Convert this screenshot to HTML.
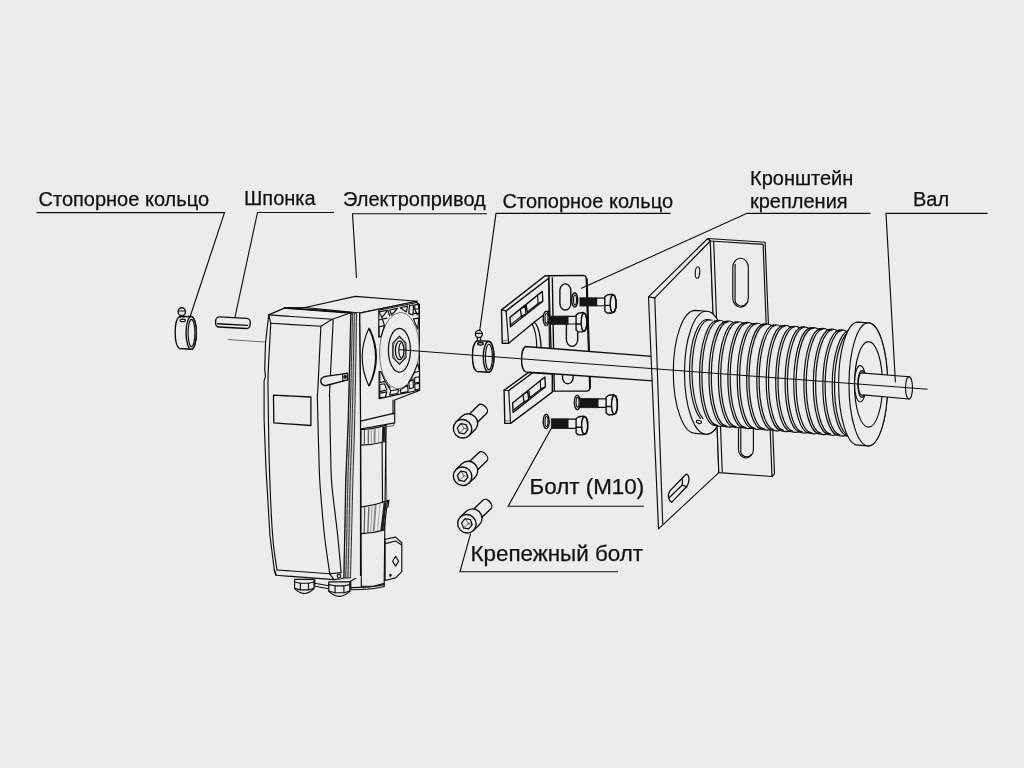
<!DOCTYPE html>
<html><head><meta charset="utf-8">
<style>
html,body{margin:0;padding:0;background:#ececec;}
body{width:1024px;height:768px;overflow:hidden;font-family:"Liberation Sans",sans-serif;}
svg{display:block;position:absolute;left:0;top:0;}
text{font-family:"Liberation Sans",sans-serif;fill:#111;stroke:#111;stroke-width:0.25;}
.t1{font-size:20px;}
.t2{font-size:22.4px;}
.ld{stroke:#0c0c0c;stroke-width:1.15;fill:none;}
.s{stroke:#0c0c0c;stroke-width:1.15;fill:none;stroke-linejoin:round;stroke-linecap:round;}
.s2{stroke:#0c0c0c;stroke-width:1.38;fill:none;stroke-linejoin:round;stroke-linecap:round;}
.sl{stroke:#333;stroke-width:0.7;fill:none;stroke-linejoin:round;stroke-linecap:round;}
.f{stroke:#0c0c0c;stroke-width:1.15;fill:#ececec;stroke-linejoin:round;stroke-linecap:round;}
.f2{stroke:#0c0c0c;stroke-width:1.38;fill:#ececec;stroke-linejoin:round;stroke-linecap:round;}
.g{stroke:#1a1a1a;stroke-width:1;fill:#bdbdbd;stroke-linejoin:round;}
.k{fill:#161616;stroke:#161616;stroke-width:0.8;}
.n{fill:#ececec;stroke:none;}
</style></head>
<body>
<svg width="1024" height="768" viewBox="0 0 1024 768">
<rect x="0" y="0" width="1024" height="768" fill="#ececec"/>
<defs><filter id="nf" x="0" y="0" width="100%" height="100%" filterUnits="userSpaceOnUse" color-interpolation-filters="sRGB"><feOffset dx="0" dy="0"/></filter><filter id="soft" x="0" y="0" width="1024" height="768" filterUnits="userSpaceOnUse" color-interpolation-filters="sRGB"><feGaussianBlur stdDeviation="0.38"/></filter></defs>
<g id="labels" filter="url(#nf)">
<text class="t1" x="38.5" y="206">Стопорное кольцо</text>
<text class="t1" x="244" y="204.5">Шпонка</text>
<text class="t1" x="343" y="206">Электропривод</text>
<text class="t1" x="502.5" y="207.5">Стопорное кольцо</text>
<text class="t1" x="750" y="184.5">Кронштейн</text>
<text class="t1" x="750" y="208">крепления</text>
<text class="t1" x="913" y="205.5">Вал</text>
<text class="t2" x="529.5" y="494">Болт (М10)</text>
<text class="t2" x="470.5" y="561">Крепежный болт</text>
</g>
<g id="parts" filter="url(#soft)">
<g id="ring1">
<path class="f2" d="M179.4,316.7 A5.2,16.2 0 0 0 179.4,348.5 L191.2,349.3 A5.2,16.3 0 0 0 191.2,316.5 Z" />
<ellipse class="f2" cx="191.2" cy="332.9" rx="5.1" ry="16.3" />
<ellipse class="s" cx="191.5" cy="333.0" rx="3.4" ry="13.6" />
<ellipse class="f2" cx="181.8" cy="311.7" rx="3.7" ry="3.9" />
<polyline class="s" points="178.6,311.0 185.0,311.0" />
<path class="s" d="M180.4,315.4 L180.4,317.2 M183.6,315.4 L183.6,317.0" />
<ellipse class="s" cx="182.8" cy="320.4" rx="2.6" ry="1.2" />
</g>
<g id="key">
<g transform="rotate(3.2 233 322.5)">
<rect class="f2" x="215.6" y="317.6" width="34.6" height="10.2" rx="3.6" ry="4"/>
<path class="s2" d="M217.5,324.6 L247.6,324.6" />
</g>
</g>
<polyline class="sl" points="228.1,339.6 264.3,342.0" />
<g id="drive">
<polygon class="f" points="360.5,421.1 386.0,419.3 384.2,583.2 374.5,586.0 361.3,586.3" />
<polygon class="f" points="355.2,296.4 417.6,301.2 359.6,313.1 305.1,307.5" />
<polygon class="f" points="359.6,313.1 414.1,301.7 419.4,304.3 419.4,390.5 394.7,400.0 394.7,422.9 360.5,429.0 360.5,400.0" />
<path class="s" d="M314.8,579.6 L314.8,586.3 L328.8,588.8 L328.8,583.2" />
<polyline class="s" points="314.8,583.2 328.8,585.8" />
<polyline class="s" points="349.9,581.4 360.5,575.6" />
<path class="s" d="M350.8,587.6 Q371.0,587.7 384.2,584.6" />
<path class="s" d="M350.8,589.7 Q371.0,589.8 384.2,586.5" />
<polyline class="s" points="350.8,581.4 350.8,589.7" />
<polyline class="s" points="384.2,583.2 384.2,586.5" />
<polyline class="sl" points="364.0,587.0 364.0,588.8" />
<polyline class="sl" points="368.9,586.7 368.9,588.4" />
<path class="f" d="M360.9,429.6 Q373.4,429.1 385.9,425.4 L385.6,441.5 Q373.3,444.9 360.9,445.1 Z" />
<line x1="364.4" y1="430.0" x2="364.4" y2="444.4" stroke="#555" stroke-width="1.2"/>
<line x1="368.4" y1="429.6" x2="368.3" y2="444.1" stroke="#6a6a6a" stroke-width="1.4"/>
<line x1="371.4" y1="429.2" x2="371.3" y2="443.8" stroke="#888" stroke-width="0.8"/>
<line x1="374.7" y1="428.7" x2="374.5" y2="443.3" stroke="#8a8a8a" stroke-width="2.0"/>
<line x1="378.9" y1="427.8" x2="378.7" y2="442.5" stroke="#999" stroke-width="0.8"/>
<line x1="383.7" y1="426.7" x2="383.3" y2="441.5" stroke="#1c1c1c" stroke-width="3.0"/>
<path class="f" d="M360.9,507.1 Q374.3,505.5 387.6,500.7 L383.9,530.1 Q372.4,533.4 360.9,533.6 Z" />
<line x1="364.7" y1="507.2" x2="364.2" y2="532.9" stroke="#555" stroke-width="1.2"/>
<line x1="368.9" y1="506.5" x2="367.8" y2="532.6" stroke="#6a6a6a" stroke-width="1.4"/>
<line x1="372.1" y1="505.8" x2="370.6" y2="532.3" stroke="#888" stroke-width="0.8"/>
<line x1="375.6" y1="505.0" x2="373.6" y2="531.9" stroke="#8a8a8a" stroke-width="2.0"/>
<line x1="380.1" y1="503.8" x2="377.5" y2="531.1" stroke="#999" stroke-width="0.8"/>
<line x1="385.2" y1="502.2" x2="381.9" y2="530.1" stroke="#1c1c1c" stroke-width="3.0"/>
<polyline class="s" points="382.1,442.0 382.5,502.6" />
<polyline class="sl" points="385.9,441.5 386.8,501.1" />
<polyline class="s" points="360.5,429.0 360.5,535.0" />
<path class="sl" d="M386.1,426.9 L393.8,425.6 L393.8,423.2" />
<path class="s" d="M386.8,501.1 L389.0,500.2 L387.9,507.1" />
<polyline class="s2" points="360.5,421.1 394.7,413.2" />
<polyline class="s" points="393.0,400.0 393.0,414.1" />
<polygon class="f" points="385.1,539.2 395.6,537.1 401.8,542.7 401.8,571.7 395.6,577.9 385.1,580.5" />
<polyline class="s" points="385.1,543.6 395.6,541.0 401.4,544.8" />
<polygon class="f" points="395.6,556.3 398.6,561.2 395.6,566.1 392.6,561.2" />
<ellipse class="k" cx="390.4" cy="575.3" rx="0.9" ry="1.3" />
<path class="f" d="M368.9,328.2 Q355.5,357.1 368.9,385.9 Q382.3,357.1 368.9,328.2 Z" />
<path class="s2" d="M369.6,328.9 Q383.0,357.1 369.6,385.2" />
<polygon class="n" points="378.8,310.3 416.6,302.5 418.9,304.4 419.7,390.0 379.1,398.6" />
<polyline class="s" points="378.8,336.9 378.8,310.3 416.6,302.5 418.9,304.4 419.7,390.0 379.1,398.6 379.1,371.2" />
<ellipse class="f" style="stroke-width:0.8;stroke:#555" cx="0" cy="0" rx="19.8" ry="38.0" transform="translate(399.4 350.6) skewY(-7)"/>
<polygon class="f" points="379.1,311.9 387.7,310.3 381.9,317.3" />
<polygon class="f" points="379.1,326.7 384.5,325.6 380.9,336.9 379.1,336.9" />
<polygon class="f" points="389.7,310.0 397.5,308.4 391.6,315.0" />
<polyline class="s" points="379.8,319.7 386.9,318.1" />
<polyline class="s" points="381.9,317.3 384.5,325.6" />
<polyline class="s" points="387.7,310.3 389.7,315.8" />
<polygon class="f" points="400.2,307.7 407.5,306.1 406.4,311.9" />
<polygon class="f" points="409.5,305.6 413.4,305.0 413.1,315.0 408.8,313.4" />
<polygon class="f" points="414.7,304.8 418.4,304.4 418.6,308.8 414.7,309.1" />
<polygon class="f" points="413.4,318.9 418.9,318.1 417.7,329.1" />
<polyline class="s" points="413.4,313.4 418.8,313.4" />
<polyline class="s" points="414.7,309.1 417.3,315.0" />
<polygon class="f" points="379.8,371.6 380.9,371.6 385.3,381.4 379.8,382.5" />
<polygon class="f" points="379.8,384.5 384.5,383.8 386.9,390.0 379.8,391.6" />
<polygon class="f" points="379.8,393.1 386.9,391.9 385.3,397.0 379.8,397.8" />
<polygon class="f" points="390.8,390.8 398.6,389.5 397.8,393.4 389.7,395.0" />
<polyline class="s" points="385.3,381.4 390.8,390.8" />
<polyline class="s" points="386.9,383.8 390.0,387.7" />
<polygon class="f" points="417.7,363.4 419.4,371.2 414.2,372.5" />
<polygon class="f" points="408.8,382.2 413.1,379.1 413.4,387.7 409.5,388.8" />
<polygon class="f" points="414.7,377.5 419.4,376.7 419.4,382.2 414.7,383.1" />
<polygon class="f" points="414.7,384.1 419.4,383.3 419.4,388.8 415.0,390.0" />
<polygon class="f" points="400.2,390.0 407.5,385.0 408.1,391.6 400.9,393.1" />
<polyline class="s" points="414.2,372.5 408.8,382.2" />
<ellipse class="f" cx="399.4" cy="350.3" rx="11.0" ry="21.9" style="stroke-width:1.2"/>
<polygon class="f" points="406.0,357.4 399.4,364.5 392.8,357.4 392.8,343.2 399.4,336.1 406.0,343.2" style="stroke-width:1.05"/>
<ellipse class="sl" cx="399.4" cy="350.3" rx="6.2" ry="12.2" />
<ellipse class="f" cx="399.7" cy="350.3" rx="4.3" ry="9.4" style="stroke-width:1.3"/>
<path class="s" d="M400.9,342.8 A3.2,8 0 0 0 400.9,357.8" />
<path class="n" d="M356.6,313.1 C356.3,330.9 355.3,392.2 354.7,420.0 C354.1,447.8 353.4,460.8 352.9,480.0 C352.4,499.2 352.0,518.7 351.6,535.0 C351.2,551.3 350.7,570.8 350.5,578.0 L360.6,578 L360.2,420 L359.6,313.1 Z" />
<path class="g" d="M350.8,312.8 C350.4,330.7 349.1,392.1 348.2,420.0 C347.3,447.9 346.3,460.8 345.7,480.0 C345.1,499.2 345.0,518.7 344.7,535.0 C344.4,551.3 343.9,570.8 343.8,578.0 L350.5,578.0 350.5,578.0 C350.7,570.8 351.2,551.3 351.6,535.0 C352.0,518.7 352.4,499.2 352.9,480.0 C353.4,460.8 354.1,447.8 354.7,420.0 C355.3,392.2 356.3,330.9 356.6,313.1Z" style="fill:#cfcfcf;stroke-width:0.95;stroke:#222"/>
<path class="s" d="M352.5,312.9 C352.1,330.7 350.9,392.1 350.1,420.0 C349.4,447.9 348.4,460.8 347.9,480.0 C347.3,499.2 347.1,518.7 346.8,535.0 C346.4,551.3 346.0,570.8 345.8,578.0" style="stroke-width:0.95;stroke:#2a2a2a"/>
<path class="s" d="M354.4,313.0 C354.0,330.8 352.9,392.2 352.2,420.0 C351.5,447.8 350.7,460.8 350.2,480.0 C349.6,499.2 349.3,518.7 349.0,535.0 C348.6,551.3 348.1,570.8 348.0,578.0" style="stroke-width:0.95;stroke:#2a2a2a"/>
<polyline class="s" points="359.6,313.1 360.5,420.0 360.5,575.6" />
<path class="f" d="M268.7,314.9 L284.9,307.9 L350.8,312.8 L348.2,420 L345.7,480 L344.7,535 L343.8,578 L341.1,578.8 L334.1,579.6 L276.1,575.3 L274.3,570.0 L269.9,535.0 L265.9,466.8 L264.1,420.0 L264.1,380.8 L265.5,376.4 L264.7,369.4 L265.5,343.0 L268.7,314.9 Z" />
<polyline class="s2" points="284.9,307.9 350.8,312.8" style="stroke-width:1.9"/>
<polyline class="s" points="305.1,307.5 284.9,307.9" />
<polyline class="s" points="268.7,314.9 332.3,319.3 350.8,312.8" />
<polyline class="s" points="270.8,323.3 320.9,326.3 332.3,319.3" />
<polyline class="s" points="268.7,314.9 270.8,323.3" />
<path class="s" d="M270.8,323.3 C270.4,331.6 268.6,360.1 268.2,372.9 C267.7,385.7 268.0,384.3 268.2,400.0 C268.4,415.7 268.7,444.3 269.4,466.8 C270.1,489.3 271.3,517.8 272.6,535.0 C273.8,552.2 276.2,564.2 277.0,570.0" />
<path class="s" d="M320.9,326.3 C320.4,337.0 318.3,378.2 317.8,390.5 C317.2,402.8 317.2,387.3 317.4,400.0 C317.6,412.7 318.7,451.8 319.2,466.8 C319.7,481.8 319.5,478.6 320.4,490.0 C321.3,501.4 322.9,521.1 324.4,535.0 C326.0,548.9 328.8,567.1 329.7,573.5" />
<path class="s" d="M333.2,319.8 C332.6,331.6 330.3,377.1 329.7,390.5 C329.1,403.8 329.5,387.3 329.7,400.0 C329.9,412.7 330.5,451.8 330.9,466.8 C331.4,481.8 331.2,478.6 332.3,490.0 C333.5,501.4 336.2,521.2 337.6,535.0 C339.1,548.8 340.5,566.3 341.1,572.6" />
<polyline class="s" points="277.0,570.0 329.7,573.8 341.1,572.6" />
<polyline class="s" points="329.7,573.8 334.1,579.6" />
<polyline class="s2" points="274.3,570.0 276.1,575.3" />
<ellipse class="s" cx="339.0" cy="576.1" rx="1.8" ry="1.8" />
<polygon class="f" points="273.5,395.2 310.9,397.0 310.9,425.5 273.8,422.9" style="stroke-width:1.3"/>
<path class="f2" d="M347.3,373.4 L325.3,376.4 Q320.4,377.8 320.7,381.3 Q321.4,385.5 326.2,385.5 L347.6,379.9 Z" />
<polygon class="f" points="342.5,374.1 347.6,373.1 347.6,379.9 342.9,380.8" />
<ellipse class="k" cx="345.2" cy="376.8" rx="1.5" ry="1.7" />
<path class="f" d="M294.6,579.3 L314.0,579.3 L314.0,588.7 Q304.3,598.3 294.6,588.7 L294.6,579.3 Z" />
<polyline class="s" points="294.6,582.0 300.4,583.2 308.5,583.2 314.0,582.0" />
<polyline class="s" points="294.6,588.4 300.4,589.9 308.5,589.9 314.0,588.4" />
<polyline class="s" points="300.4,583.2 300.4,589.9" />
<polyline class="s" points="308.5,583.2 308.5,589.9" />
<path class="f" d="M328.8,581.8 L349.8,581.8 L349.8,591.4 Q339.3,601.3 328.8,591.4 L328.8,581.8 Z" />
<polyline class="s" points="328.8,584.6 335.1,585.8 343.9,585.8 349.8,584.6" />
<polyline class="s" points="328.8,591.1 335.1,592.7 343.9,592.7 349.8,591.1" />
<polyline class="s" points="335.1,585.8 335.1,592.7" />
<polyline class="s" points="343.9,585.8 343.9,592.7" />
</g>
<g id="bracket">
<polygon class="f2" points="501.5,309.9 545.2,275.7 548.7,275.7 552.3,278.0 552.3,308.0 534.1,322.3 508.7,343.2 502.2,343.2" />
<polyline class="s2" points="506.1,310.9 549.1,278.0" />
<polyline class="s" points="506.1,310.9 508.7,343.2" />
<polyline class="s" points="501.5,309.9 506.1,310.9" />
<polyline class="sl" points="502.8,340.6 508.0,340.6" />
<polygon class="f" points="510.0,317.4 542.3,291.4 542.8,301.2 510.5,326.8" style="stroke-width:1.35"/>
<polyline class="s" points="511.0,324.4 521.1,316.4" />
<polyline class="s" points="527.4,311.9 538.1,303.5 542.6,301.2" />
<polyline class="s" points="537.6,295.5 538.1,303.5" />
<polygon class="f" points="520.4,309.1 525.1,305.9 526.1,313.8 521.4,316.6" style="stroke-width:1.3"/>
<polyline class="s" points="526.3,305.4 527.2,311.9" style="stroke-width:1.3"/>
<path class="s2" d="M534.1,322.3 Q539.9,326.2 541.2,348.4" />
<path class="s" d="M532.1,324.3 Q536.4,330.1 536.9,348.4" />
<path class="f2" d="M548.7,275.7 L583.6,275.4 Q586.2,275.7 586.4,278.7 L589.8,377.1 L589.8,387.5 Q589.8,391.1 586.2,391.1 L552.3,391.1 Z" />
<polyline class="s" points="586.7,279.1 590.0,387.5" style="stroke-width:2.0"/>
<polyline class="s2" points="552.3,278.0 554.3,390.8" />
<polyline class="s" points="548.7,275.7 549.4,348.4" />
<rect class="f2" x="559.9" y="283.9" width="10.9" height="26.1" rx="5.5" ry="6.6"/>
<rect class="f2" x="566.4" y="317.1" width="11.3" height="29.3" rx="5.7" ry="6.8"/>
<rect class="f2" x="562.5" y="366.1" width="10.7" height="17.6" rx="5.3" ry="6.4"/>
</g>
<g id="hexbolts">
<rect class="k" x="549.7" y="316.1" width="18.2" height="8.2"/>
<rect class="f" x="567.9" y="316.4" width="9.8" height="7.6"/>
<polygon class="f2" points="576.1,315.1 578.5,313.1 583.1,312.5 585.4,314.0 586.8,318.8 586.8,325.8 585.1,330.6 582.4,331.9 578.2,331.9 576.1,329.9" />
<ellipse class="s2" cx="584.0" cy="322.3" rx="2.8" ry="9.0" />
<polyline class="s2" points="576.1,324.0 581.3,324.0" />
<ellipse class="f2" cx="546.2" cy="318.4" rx="3.0" ry="7.2" />
<ellipse class="s" cx="546.5" cy="318.4" rx="1.5" ry="4.9" />
<rect class="k" x="579.9" y="297.8" width="16.7" height="8.2"/>
<rect class="f" x="596.6" y="298.1" width="10.5" height="7.6"/>
<polygon class="f2" points="604.8,296.8 607.3,294.9 612.2,294.3 614.7,295.7 616.1,300.4 616.1,307.2 614.3,311.8 611.5,313.0 607.0,313.0 604.8,311.1" />
<ellipse class="s2" cx="613.1" cy="303.8" rx="2.9" ry="8.7" />
<polyline class="s2" points="604.8,305.4 610.3,305.4" />
<ellipse class="f2" cx="574.7" cy="299.9" rx="3.0" ry="7.2" />
<ellipse class="s" cx="575.0" cy="299.9" rx="1.5" ry="4.9" />
<rect class="k" x="580.3" y="398.6" width="17.6" height="9.1"/>
<rect class="f" x="597.9" y="398.9" width="10.5" height="8.5"/>
<polygon class="f2" points="606.1,397.3 608.7,395.3 613.5,394.7 616.0,396.2 617.4,401.2 617.4,408.4 615.6,413.4 612.8,414.7 608.3,414.7 606.1,412.7" />
<ellipse class="s2" cx="614.4" cy="404.8" rx="2.9" ry="9.3" />
<polyline class="s2" points="606.1,406.5 611.6,406.5" />
<ellipse class="f2" cx="577.3" cy="402.3" rx="3.0" ry="7.2" />
<ellipse class="s" cx="577.6" cy="402.3" rx="1.5" ry="4.9" />
<rect class="k" x="551.3" y="418.8" width="16.7" height="9.8"/>
<rect class="f" x="567.9" y="419.1" width="10.5" height="9.2"/>
<polygon class="f2" points="576.1,418.7 578.8,416.8 583.7,416.2 586.2,417.6 587.7,422.2 587.7,429.0 585.8,433.7 583.0,434.9 578.4,434.9 576.1,433.0" />
<ellipse class="s2" cx="584.6" cy="425.6" rx="3.0" ry="8.7" />
<polyline class="s2" points="576.1,427.3 581.8,427.3" />
<ellipse class="f2" cx="546.2" cy="421.4" rx="3.0" ry="7.2" />
<ellipse class="s" cx="546.5" cy="421.4" rx="1.5" ry="4.9" />
</g>
<g id="tube">
<path class="f2" d="M525.6,346.5 L652.0,356.4 L653.0,380.9 L525.6,371.9 A4.6,12.8 0 0 1 525.6,346.5 Z" />
</g>
<g id="bracketlow">
<polygon class="f2" points="504.1,390.2 528.2,372.6 552.3,374.1 552.3,392.1 510.6,423.4 504.8,423.4" />
<polyline class="s2" points="508.7,390.5 532.1,373.2" />
<polyline class="s" points="508.7,390.5 510.6,423.4" />
<polyline class="s" points="504.1,390.2 508.7,390.5" />
<polyline class="sl" points="505.4,420.8 510.4,420.8" />
<polygon class="f" points="512.6,403.0 544.9,377.0 545.4,386.9 513.1,412.4" style="stroke-width:1.35"/>
<polyline class="s" points="513.6,410.0 523.7,402.0" />
<polyline class="s" points="530.0,397.5 540.7,389.1 545.2,386.9" />
<polyline class="s" points="540.2,381.1 540.7,389.1" />
<polygon class="f" points="523.0,394.7 527.7,391.5 528.7,399.4 524.0,402.2" style="stroke-width:1.3"/>
<polyline class="s" points="528.9,391.0 529.8,397.5" style="stroke-width:1.3"/>
</g>
<g id="ring2">
<path class="f2" d="M476.8,340.8 A5.3,15.6 0 0 0 476.8,371.5 L488.6,372.3 A5.3,15.4 0 0 0 488.6,341.1 Z" />
<ellipse class="f2" cx="488.6" cy="356.9" rx="5.3" ry="15.4" />
<ellipse class="s" cx="488.9" cy="357.0" rx="3.5" ry="12.8" />
<ellipse class="f2" cx="478.9" cy="334.0" rx="3.5" ry="3.6" />
<polyline class="s" points="475.9,333.4 481.9,333.4" />
<path class="s" d="M477.3,337.4 L477.3,340.0 M480.7,337.4 L480.7,339.6" />
<ellipse class="s2" cx="480.4" cy="343.8" rx="2.8" ry="1.3" />
</g>
<g id="sockbolts">
<g transform="translate(462.6 428.8) rotate(-44.5)">
<path class="f" style="stroke-width:1.35" d="M8.2,-5.8 L28.1,-5.8 A3.6,5.8 0 0 1 28.1,5.8 L8.2,5.8 Z"/>
<path class="f" style="stroke-width:1.35" d="M0,-9.4 L8.2,-9.4 A9.1,9.4 0 0 1 8.2,9.4 L0,9.4 Z"/>
</g>
<ellipse class="f2" cx="462.6" cy="428.8" rx="9.1" ry="9.4" transform="rotate(-44.5 462.6 428.8)" />
<polygon class="f" points="467.9,429.7 464.4,433.9 459.1,432.9 457.3,427.9 460.8,423.7 466.1,424.7" style="stroke-width:1.3"/>
<polyline class="sl" points="467.9,429.7 464.0,428.2" />
<polyline class="sl" points="459.1,432.9 463.4,429.2" />
<polyline class="sl" points="460.8,423.7 464.0,428.2" />
<polyline class="sl" points="464.0,428.2 463.4,429.2" />
<g transform="translate(462.6 476.2) rotate(-43.9)">
<path class="f" style="stroke-width:1.35" d="M8.2,-5.8 L28.2,-5.8 A3.6,5.8 0 0 1 28.2,5.8 L8.2,5.8 Z"/>
<path class="f" style="stroke-width:1.35" d="M0,-9.4 L8.2,-9.4 A9.1,9.4 0 0 1 8.2,9.4 L0,9.4 Z"/>
</g>
<ellipse class="f2" cx="462.6" cy="476.2" rx="9.1" ry="9.4" transform="rotate(-43.9 462.6 476.2)" />
<polygon class="f" points="467.9,477.1 464.4,481.3 459.1,480.3 457.3,475.3 460.8,471.1 466.1,472.1" style="stroke-width:1.3"/>
<polyline class="sl" points="467.9,477.1 464.0,475.6" />
<polyline class="sl" points="459.1,480.3 463.4,476.6" />
<polyline class="sl" points="460.8,471.1 464.0,475.6" />
<polyline class="sl" points="464.0,475.6 463.4,476.6" />
<g transform="translate(466.9 523.8) rotate(-44.1)">
<path class="f" style="stroke-width:1.35" d="M8.2,-5.8 L28.1,-5.8 A3.6,5.8 0 0 1 28.1,5.8 L8.2,5.8 Z"/>
<path class="f" style="stroke-width:1.35" d="M0,-9.4 L8.2,-9.4 A9.1,9.4 0 0 1 8.2,9.4 L0,9.4 Z"/>
</g>
<ellipse class="f2" cx="466.9" cy="523.8" rx="9.1" ry="9.4" transform="rotate(-44.1 466.9 523.8)" />
<polygon class="f" points="472.2,524.7 468.7,528.9 463.4,527.9 461.6,522.9 465.1,518.7 470.4,519.7" style="stroke-width:1.3"/>
<polyline class="sl" points="472.2,524.7 468.3,523.2" />
<polyline class="sl" points="463.4,527.9 467.7,524.2" />
<polyline class="sl" points="465.1,518.7 468.3,523.2" />
<polyline class="sl" points="468.3,523.2 467.7,524.2" />
</g>
<g id="plate">
<polygon class="f" points="648.5,296.9 707.7,238.5 710.3,241.0 718.8,472.6 658.5,528.8" />
<polyline class="s" points="654.8,297.9 710.3,241.0" />
<polyline class="s" points="654.8,297.9 662.7,523.5" />
<polyline class="s" points="648.5,296.9 654.8,297.9" />
<ellipse class="f" cx="697.5" cy="272.5" rx="2.2" ry="5.8" transform="rotate(4.0 697.5 272.5)" />
<path class="f" d="M669.7,491.1 L685.5,474.7 Q687.5,473.2 688.7,476.7 Q689.6,482.0 686.9,486.2 L671.7,502.4 Q669.1,500.8 668.4,497.2 Q668.0,493.7 669.7,491.1 Z" style="stroke-width:1.3"/>
<polyline class="s" points="669.1,497.8 682.3,485.0 686.9,486.8" style="stroke-width:1.3"/>
<polyline class="s" points="682.4,479.4 682.3,485.0" style="stroke-width:1.3"/>
<polygon class="f" points="707.7,238.5 765.1,242.3 774.5,473.6 772.0,476.5 718.8,472.6 710.3,241.0" />
<polyline class="s" points="710.3,241.0 763.1,244.4 772.0,476.5" />
<polyline class="s" points="713.7,241.6 722.2,471.6" />
<rect class="f" x="732.8" y="258.2" width="15.5" height="49.0" rx="7.8" ry="8.9"/>
<path class="s" d="M735.1,264.4 L735.1,298.7 A6.2,6.5 0 0 0 746.3,303.3"/>
<rect class="f" x="738.5" y="410.0" width="14.9" height="48.0" rx="7.4" ry="8.6"/>
<path class="s" d="M740.8,416.0 L740.8,449.8 A5.9,6.2 0 0 0 751.4,454.3"/>
</g>
<g id="drum">
<path class="f" d="M695.3,310.4 A22.0,61.5 0 0 0 695.3,433.4 L706.3,434.2 A22.0,61.5 0 0 0 706.3,311.2 Z" />
<ellipse class="f" cx="706.3" cy="372.7" rx="21.8" ry="61.5" />
<path class="s" d="M709.5,320.0 A17.6,51.4 0 0 0 700.5,418.5" />
<path class="s" d="M711.9,320.2 A17.6,51.4 0 0 0 702.9,418.7" />
<ellipse class="s" cx="698.9" cy="421.9" rx="2.6" ry="1.5" transform="rotate(15.0 698.9 421.9)" />
<g transform="rotate(1.00 716.2 373.0)">
<path class="n" d="M716.2,320.5 A16.6,52.4 0 0 0 716.2,425.4 L727.1,426.2 L727.1,321.3 Z" />
<path class="s" d="M713.7,321.0 Q720.0,319.1 723.1,321.7" />
<path class="s" d="M714.2,425.1 Q720.4,427.1 723.6,425.8" />
<path class="s" d="M716.2,320.5 A16.6,52.4 0 0 0 716.2,425.4" style="stroke-width:1.2"/>
<path class="s" d="M718.5,320.7 A16.6,52.2 0 0 0 718.5,425.2" style="stroke-width:1.2"/>
</g>
<g transform="rotate(1.00 725.6 373.7)">
<path class="n" d="M725.6,321.3 A16.6,52.4 0 0 0 725.6,426.2 L736.5,427.0 L736.5,322.1 Z" />
<path class="s" d="M723.1,321.8 Q729.4,319.9 732.5,322.5" />
<path class="s" d="M723.6,425.9 Q729.9,427.9 733.0,426.6" />
<path class="s" d="M725.6,321.3 A16.6,52.4 0 0 0 725.6,426.2" style="stroke-width:1.2"/>
<path class="s" d="M727.9,321.5 A16.6,52.2 0 0 0 727.9,426.0" style="stroke-width:1.2"/>
</g>
<g transform="rotate(1.00 735.0 374.5)">
<path class="n" d="M735.0,322.0 A16.6,52.4 0 0 0 735.0,426.9 L746.0,427.7 L746.0,322.8 Z" />
<path class="s" d="M732.5,322.5 Q738.8,320.6 742.0,323.2" />
<path class="s" d="M733.0,426.6 Q739.3,428.6 742.5,427.3" />
<path class="s" d="M735.0,322.0 A16.6,52.4 0 0 0 735.0,426.9" style="stroke-width:1.2"/>
<path class="s" d="M737.3,322.2 A16.6,52.2 0 0 0 737.3,426.7" style="stroke-width:1.2"/>
</g>
<g transform="rotate(1.00 744.5 375.2)">
<path class="n" d="M744.5,322.7 A16.6,52.4 0 0 0 744.5,427.6 L755.4,428.4 L755.4,323.5 Z" />
<path class="s" d="M742.0,323.2 Q748.2,321.3 751.4,323.9" />
<path class="s" d="M742.5,427.3 Q748.7,429.3 751.9,428.0" />
<path class="s" d="M744.5,322.7 A16.6,52.4 0 0 0 744.5,427.6" style="stroke-width:1.2"/>
<path class="s" d="M746.8,322.9 A16.6,52.2 0 0 0 746.8,427.4" style="stroke-width:1.2"/>
</g>
<g transform="rotate(1.00 753.9 375.9)">
<path class="n" d="M753.9,323.5 A16.6,52.4 0 0 0 753.9,428.4 L764.8,429.2 L764.8,324.3 Z" />
<path class="s" d="M751.4,324.0 Q757.6,322.1 760.8,324.7" />
<path class="s" d="M751.9,428.1 Q758.1,430.1 761.3,428.8" />
<path class="s" d="M753.9,323.5 A16.6,52.4 0 0 0 753.9,428.4" style="stroke-width:1.2"/>
<path class="s" d="M756.2,323.7 A16.6,52.2 0 0 0 756.2,428.2" style="stroke-width:1.2"/>
</g>
<g transform="rotate(1.00 763.3 376.7)">
<path class="n" d="M763.3,324.2 A16.6,52.4 0 0 0 763.3,429.1 L774.2,429.9 L774.2,325.0 Z" />
<path class="s" d="M760.8,324.7 Q767.1,322.8 770.2,325.4" />
<path class="s" d="M761.3,428.8 Q767.5,430.8 770.7,429.5" />
<path class="s" d="M763.3,324.2 A16.6,52.4 0 0 0 763.3,429.1" style="stroke-width:1.2"/>
<path class="s" d="M765.6,324.4 A16.6,52.2 0 0 0 765.6,428.9" style="stroke-width:1.2"/>
</g>
<g transform="rotate(1.00 772.7 377.4)">
<path class="n" d="M772.7,325.0 A16.6,52.5 0 0 0 772.7,429.9 L783.6,430.7 L783.6,325.8 Z" />
<path class="s" d="M770.2,325.5 Q776.5,323.6 779.6,326.2" />
<path class="s" d="M770.7,429.6 Q777.0,431.6 780.1,430.3" />
<path class="s" d="M772.7,325.0 A16.6,52.5 0 0 0 772.7,429.9" style="stroke-width:1.2"/>
<path class="s" d="M775.0,325.2 A16.6,52.3 0 0 0 775.0,429.7" style="stroke-width:1.2"/>
</g>
<g transform="rotate(1.00 782.1 378.2)">
<path class="n" d="M782.1,325.7 A16.6,52.5 0 0 0 782.1,430.6 L793.1,431.4 L793.1,326.5 Z" />
<path class="s" d="M779.6,326.2 Q785.9,324.3 789.1,326.9" />
<path class="s" d="M780.1,430.3 Q786.4,432.3 789.6,431.0" />
<path class="s" d="M782.1,325.7 A16.6,52.5 0 0 0 782.1,430.6" style="stroke-width:1.2"/>
<path class="s" d="M784.4,325.9 A16.6,52.3 0 0 0 784.4,430.4" style="stroke-width:1.2"/>
</g>
<g transform="rotate(1.00 791.6 378.9)">
<path class="n" d="M791.6,326.5 A16.6,52.5 0 0 0 791.6,431.4 L802.5,432.2 L802.5,327.3 Z" />
<path class="s" d="M789.1,327.0 Q795.3,325.1 798.5,327.7" />
<path class="s" d="M789.6,431.1 Q795.8,433.1 799.0,431.8" />
<path class="s" d="M791.6,326.5 A16.6,52.5 0 0 0 791.6,431.4" style="stroke-width:1.2"/>
<path class="s" d="M793.9,326.7 A16.6,52.3 0 0 0 793.9,431.2" style="stroke-width:1.2"/>
</g>
<g transform="rotate(1.00 801.0 379.7)">
<path class="n" d="M801.0,327.2 A16.6,52.5 0 0 0 801.0,432.1 L811.9,432.9 L811.9,328.0 Z" />
<path class="s" d="M798.5,327.7 Q804.7,325.8 807.9,328.4" />
<path class="s" d="M799.0,431.8 Q805.2,433.8 808.4,432.5" />
<path class="s" d="M801.0,327.2 A16.6,52.5 0 0 0 801.0,432.1" style="stroke-width:1.2"/>
<path class="s" d="M803.3,327.4 A16.6,52.3 0 0 0 803.3,431.9" style="stroke-width:1.2"/>
</g>
<g transform="rotate(1.00 810.4 380.4)">
<path class="n" d="M810.4,327.9 A16.6,52.5 0 0 0 810.4,432.9 L821.3,433.7 L821.3,328.7 Z" />
<path class="s" d="M807.9,328.4 Q814.2,326.5 817.3,329.1" />
<path class="s" d="M808.4,432.6 Q814.6,434.6 817.8,433.3" />
<path class="s" d="M810.4,327.9 A16.6,52.5 0 0 0 810.4,432.9" style="stroke-width:1.2"/>
<path class="s" d="M812.7,328.1 A16.6,52.3 0 0 0 812.7,432.7" style="stroke-width:1.2"/>
</g>
<g transform="rotate(1.00 819.8 381.1)">
<path class="n" d="M819.8,328.7 A16.6,52.5 0 0 0 819.8,433.6 L830.7,434.4 L830.7,329.5 Z" />
<path class="s" d="M817.3,329.2 Q823.6,327.3 826.7,329.9" />
<path class="s" d="M817.8,433.3 Q824.1,435.3 827.2,434.0" />
<path class="s" d="M819.8,328.7 A16.6,52.5 0 0 0 819.8,433.6" style="stroke-width:1.2"/>
<path class="s" d="M822.1,328.9 A16.6,52.3 0 0 0 822.1,433.4" style="stroke-width:1.2"/>
</g>
<g transform="rotate(1.00 829.2 381.9)">
<path class="n" d="M829.2,329.4 A16.6,52.5 0 0 0 829.2,434.3 L840.2,435.1 L840.2,330.2 Z" />
<path class="s" d="M826.7,329.9 Q833.0,328.0 836.2,330.6" />
<path class="s" d="M827.2,434.0 Q833.5,436.0 836.7,434.7" />
<path class="s" d="M829.2,329.4 A16.6,52.5 0 0 0 829.2,434.3" style="stroke-width:1.2"/>
<path class="s" d="M831.5,329.6 A16.6,52.3 0 0 0 831.5,434.1" style="stroke-width:1.2"/>
</g>
<g transform="rotate(1.00 838.7 382.6)">
<path class="n" d="M838.7,330.2 A16.6,52.5 0 0 0 838.7,435.1 L849.6,435.9 L849.6,331.0 Z" />
<path class="s" d="M836.2,330.7 Q842.4,328.8 845.6,331.4" />
<path class="s" d="M836.7,434.8 Q842.9,436.8 846.1,435.5" />
<path class="s" d="M838.7,330.2 A16.6,52.5 0 0 0 838.7,435.1" style="stroke-width:1.2"/>
<path class="s" d="M841.0,330.4 A16.6,52.3 0 0 0 841.0,434.9" style="stroke-width:1.2"/>
</g>
<g transform="rotate(1.00 848.1 383.4)">
<path class="n" d="M848.1,330.9 A16.6,52.5 0 0 0 848.1,435.8 L859.0,436.6 L859.0,331.7 Z" />
<path class="s" d="M845.6,331.4 Q851.8,329.5 855.0,332.1" />
<path class="s" d="M846.1,435.5 Q852.3,437.5 855.5,436.2" />
<path class="s" d="M848.1,330.9 A16.6,52.5 0 0 0 848.1,435.8" style="stroke-width:1.2"/>
<path class="s" d="M850.4,331.1 A16.6,52.3 0 0 0 850.4,435.6" style="stroke-width:1.2"/>
</g>
<g transform="rotate(1.00 857.5 384.1)">
<path class="n" d="M857.5,331.6 A16.6,52.5 0 0 0 857.5,436.6 L868.4,437.4 L868.4,332.4 Z" />
<path class="s" d="M855.0,332.1 Q861.3,330.2 864.4,332.8" />
<path class="s" d="M855.5,436.3 Q861.7,438.3 864.9,437.0" />
<path class="s" d="M857.5,331.6 A16.6,52.5 0 0 0 857.5,436.6" style="stroke-width:1.2"/>
<path class="s" d="M859.8,331.8 A16.6,52.3 0 0 0 859.8,436.4" style="stroke-width:1.2"/>
</g>
<path class="f" d="M857.9,322.1 A19.3,61.5 0 0 0 857.9,445.1 L868.3,445.9 A19.3,61.5 0 0 0 868.3,322.9 Z" />
<ellipse class="f" cx="868.3" cy="384.4" rx="19.3" ry="61.5" />
<ellipse class="s" cx="868.5" cy="384.4" rx="14.0" ry="42.7" />
<ellipse class="s" cx="860.2" cy="383.8" rx="5.8" ry="18.2" />
<ellipse class="f" cx="862.0" cy="384.0" rx="4.2" ry="13.4" />
<path class="f" d="M861.0,372.9 L909.0,376.7 L909.0,399.0 L863.0,394.9 A3.6,11 0 0 1 861.0,372.9 Z" />
<ellipse class="f" cx="909.0" cy="387.8" rx="3.5" ry="11.2" />
</g>
<polyline class="s" points="399.6,349.7 927.3,389.2" style="stroke-width:1.0"/>
<g id="leaders" class="ld">
<polyline points="36.5,212.6 224.5,212.6 190,317"/>
<polyline points="334,212.5 257.5,212.5 235,317"/>
<polyline points="487,213.7 352.5,213.7 356.5,278"/>
<polyline points="670.5,213.3 496,213.3 479.8,330"/>
<polyline points="870.5,213.3 747,213.3 581,288.4"/>
<polyline points="987.6,213.3 886,213.3 895.4,382.3"/>
<polyline points="644,506.2 508.2,506.2 551.5,428"/>
<polyline points="618,571.7 460,571.7 470.6,533.6"/>
</g>
</g>
</svg>
</body></html>
